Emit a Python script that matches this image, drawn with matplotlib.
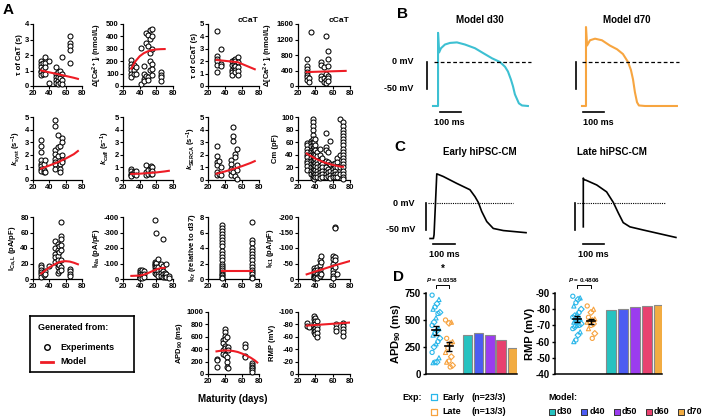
import matplotlib
matplotlib.use("Agg")
import matplotlib.pyplot as plt
import numpy as np

plt.rcParams.update({
    "font.family": ["Liberation Sans", "DejaVu Sans"],
    "font.weight": "bold",
    "axes.labelweight": "bold",
    "mathtext.fontset": "custom",
    "mathtext.rm": "Liberation Sans:bold",
    "mathtext.it": "Liberation Sans:bold:italic",
    "mathtext.bf": "Liberation Sans:bold",
    "axes.unicode_minus": False,
})

# ---------------- data: panel A (maturity in days, values) ----------------
tau_cat = [(30, [1.6, 1.4, 1.2, 1.0, 0.9, 0.7]), (32, [1.5, 1.1, 0.8]), (35, [1.9, 1.5, 1.2, 0.8]),
           (40, [1.6, 0.2]), (48, [1.2, 0.8, 0.6, 0.4, 0.2]), (50, [0.9, 0.6, 0.3, 0.1]),
           (53, [1.0, 0.7, 0.5, 0.2]), (55, [1.9, 0.8, 0.4, 0.1]), (65, [3.2, 2.8, 2.6, 2.3, 1.5])]
tau_cat_fit_d = [30, 40, 50, 60, 70, 75]
tau_cat_fit = [1.0, 0.88, 0.77, 0.65, 0.53, 0.46]

dca = [(30, [210, 180, 150, 130, 100, 70]), (33, [170, 130, 100]), (35, [150, 100]), (41, [310, 20]),
       (45, [160, 100, 60, 40]), (48, [430, 350, 80]), (50, [410, 320, 70, 50]),
       (52, [450, 380, 270, 200, 130]), (55, [460, 400, 300, 180, 140, 90]), (65, [110, 90, 70, 40])]
dca_fit_d = [30, 35, 40, 45, 50, 55, 60, 65, 70]
dca_fit = [140, 200, 240, 265, 280, 290, 295, 297, 298]

tau_ccat = [(30, [4.4, 2.4, 2.2, 2.0, 1.7, 1.1]), (35, [3.0, 1.8, 1.6]), (48, [2.0, 1.7, 1.3, 1.1, 0.9]),
            (50, [2.1, 1.8, 1.5]), (52, [2.2, 2.0, 1.6, 1.3, 1.1]), (55, [2.3, 1.9, 1.5, 1.2, 0.9])]
tau_ccat_fit_d = [30, 55, 75]
tau_ccat_fit = [2.1, 1.92, 1.35]

dca_c = [(30, [700, 520, 450, 350, 280, 220, 150]), (33, [200, 100]), (35, [1400]),
         (47, [620, 550, 250, 180]), (50, [500, 200, 100]), (52, [1300, 300, 150, 80]),
         (55, [900, 700, 520, 250, 200, 120])]
dca_c_fit_d = [30, 75]
dca_c_fit = [360, 390]

k_syst = [(30, [3.2, 2.7, 2.2, 1.6, 1.3, 1.1, 0.9, 0.7]), (33, [1.3, 0.8, 0.6]), (35, [1.6, 0.6]),
          (47, [4.8, 4.3, 2.4, 2.1, 1.7, 1.4, 1.3, 0.9]), (50, [3.6, 2.6, 1.9]),
          (53, [2.7, 1.3, 0.9, 0.6]), (55, [3.3, 3.0, 2.0, 1.6, 1.4])]
k_syst_fit_d = [30, 40, 50, 60, 70, 75]
k_syst_fit = [0.9, 1.15, 1.4, 1.7, 2.05, 2.3]

k_caff = [(30, [0.9, 0.7, 0.5, 0.4, 0.3]), (33, [0.6, 0.5]), (35, [0.7, 0.4]), (47, [1.2, 0.6, 0.4]),
          (50, [0.8, 0.5]), (53, [1.1, 0.9, 0.5]), (55, [1.0, 0.7, 0.5])]
k_caff_fit_d = [30, 40, 50, 60, 70, 75]
k_caff_fit = [0.48, 0.5, 0.55, 0.6, 0.68, 0.73]

k_serca = [(30, [2.7, 1.9, 1.4, 1.2, 0.6, 0.4]), (33, [1.5, 0.5]), (35, [1.0, 0.4]),
           (47, [1.6, 1.3, 0.9, 0.7, 0.4]), (49, [4.2, 3.5, 3.1, 0.6]), (52, [2.1, 1.8, 0.3]),
           (54, [2.5, 1.2, 0.8, 0.1])]
k_serca_fit_d = [30, 40, 50, 60, 70, 75]
k_serca_fit = [0.5, 0.68, 0.88, 1.1, 1.35, 1.5]

cm = [(30, [58, 55, 50, 45, 40, 36, 30, 27, 22, 16]),
      (35, [62, 58, 54, 48, 44, 40, 35, 30, 25, 20, 15, 10]),
      (37, [97, 92, 85, 80, 72, 65, 60, 55, 50, 44, 38, 32, 26, 20, 14, 8, 3]),
      (38, [60, 52, 46, 42, 36, 30, 24, 18, 12, 6, 2]),
      (40, [65, 56, 48, 40, 33, 27, 22, 16, 10, 5]), (42, [45, 38, 30, 25, 20, 15, 10, 5]),
      (45, [50, 40, 30, 22, 18, 12, 8, 3]), (48, [35, 25, 20, 15, 10, 5]),
      (52, [75, 52, 48, 30, 20, 15, 10, 5]), (55, [45, 28, 18, 12, 6]), (57, [62, 25, 15, 8, 3]),
      (60, [25, 18, 12, 8, 4]), (63, [27, 20, 14, 10, 5]), (65, [35, 28, 20, 10, 5]),
      (68, [97, 40, 20, 10]),
      (72, [92, 85, 80, 75, 70, 65, 60, 55, 50, 45, 40, 35, 30, 25, 20, 15, 10, 5, 2])]
cm_fit_d = [30, 40, 50, 60, 70, 72]
cm_fit = [42, 34, 28, 24, 21, 21]

ical = [(30, [18, 15, 12, 9, 6, 3]), (33, [8, 5]), (35, [10, 7]), (40, [17]), (47, [49, 40, 32, 28, 22]),
        (50, [45, 38, 30, 25, 20, 15, 8]), (52, [42, 35, 18, 10]),
        (54, [74, 55, 52, 44, 38, 25, 16, 12]), (65, [13, 10, 7, 4])]
ical_fit_d = [30, 35, 40, 45, 50, 55, 60, 65, 70, 75]
ical_fit = [7, 11, 15, 18, 21, 22.5, 23, 22.5, 21, 19]

ina = [(40, [-60, -45, -30, -20, -15, -10, -5]), (43, [-55, -35, -20, -5]), (45, [-50, -30, -10]),
       (58, [-380, -110, -100, -90, -80, -60, -40]), (60, [-295, -105, -80, -60, -50, -30]),
       (62, [-130, -75, -50, -30, -20]), (65, [-95, -60, -40, -20]),
       (68, [-260, -85, -50, -30, -15]), (70, [-40, -20, -10]), (72, [-95, -30, -10]), (75, [-20, -5])]
ina_fit_d = [30, 40, 45, 50, 55, 60, 65, 70]
ina_fit = [-20, -22, -28, -38, -50, -62, -70, -72]

ikr = [(37, [7.0, 6.6, 6.2, 5.8, 5.4, 5.0, 4.6, 4.2, 3.6, 3.2, 2.8, 2.4, 2.0, 1.7, 1.4, 1.1, 0.9,
             0.7, 0.5, 0.3, 0.1]),
       (72, [7.3, 5.0, 4.6, 4.0, 3.6, 3.2, 2.8, 2.4, 2.0, 1.6, 1.2, 0.9, 0.6, 0.3, 0.1])]
ikr_fit_d = [37, 72]
ikr_fit = [1, 1]

ik1 = [(38, [-35, -25, -15, -10, -5, -3]), (40, [-30, -20, -10, -5]), (42, [-38, -28, -15, -8, -3]),
       (45, [-60, -45, -30, -20, -10]), (47, [-75, -55, -15]),
       (60, [-75, -65, -50, -40, -30, -20, -10, -3]), (63, [-168, -165, -70, -60, -40]), (65, [-15])]
ik1_fit_d = [30, 40, 50, 60, 70, 80]
ik1_fit = [-15, -24, -33, -42, -50, -58]

apd = [(30, [250, 230, 110]), (38, [550, 500, 380, 330]), (40, [720, 680, 620, 560, 450, 420, 300]),
       (42, [600, 400, 280, 200, 120]), (44, [430, 380, 100]), (63, [490, 440, 290, 270]),
       (72, [180, 150, 120, 90, 60, 30])]
apd_fit_d = [30, 35, 40, 45, 50, 55, 60, 65, 70, 75, 78]
apd_fit = [365, 375, 380, 378, 370, 355, 330, 300, 265, 220, 185]

rmp = [(30, [-82, -78]), (33, [-76]), (38, [-93, -88, -83, -78, -72, -68]),
       (40, [-90, -85, -80, -74, -70, -65]), (42, [-85, -78, -72, -66, -60]), (64, [-80, -75, -70]),
       (72, [-83, -78, -73, -68, -62])]
rmp_fit_d = [30, 80]
rmp_fit = [-78, -83]

# ---------------- data: panels B and C (time in ms, voltage in mV) ----------------
d30_t = [0, 24, 24, 29, 38, 57, 81, 114, 152, 200, 238, 281, 319, 343, 357, 371, 381, 390, 400, 409, 424, 452]
d30_v = [-83, -83, 55, 18, 26, 33, 36, 37, 33, 26, 17, 7, 0, -9, -18, -33, -46, -61, -70, -78, -82, -83]
d70_t = [0, 19, 19, 24, 38, 62, 95, 133, 167, 195, 219, 233, 243, 252, 262, 271, 300, 452]
d70_v = [-83, -83, 66, 31, 41, 44, 41, 31, 24, 15, 0, -15, -33, -57, -76, -82, -83, -83]
early_t = [-14, 2, 5, 18, 49, 113, 176, 200, 216, 232, 256, 287, 335, 443]
early_v = [-67, -67, -60, 55, 50, 37, 25, 12, 1, -16, -35, -48, -52, -56]
late_t = [0, 0, 3, 13, 64, 111, 143, 167, 190, 222, 286, 441]
late_v = [-45, 47, 44, 43, 34, 21, 1, -19, -37, -45, -51, -65]

# ---------------- data: panel D ----------------
apd_early = [730, 690, 650, 620, 600, 570, 560, 520, 480, 450, 420, 400, 380, 360, 330, 300, 280,
             250, 200, 150, 110, 110, 105]
apd_late = [500, 480, 470, 330, 300, 280, 240, 200, 160, 120, 110, 80, 65]
rmp_early = [-88, -87, -86, -84, -82, -80, -78, -77, -76, -75, -74, -73, -72, -72, -71, -70, -70,
             -69, -68, -66, -64, -61, -60]
rmp_late = [-82, -80, -78, -75, -74, -73, -72, -72, -71, -70, -68, -65, -62]
model_days = ["d30", "d40", "d50", "d60", "d70"]
model_apd = [361, 378, 361, 312, 240]
model_rmp = [-79.5, -80.3, -81.3, -82.0, -82.5]

RED = "#ee1c25"
CYAN = "#2ab7ea"
ORANGE = "#f7a23e"
MODEL_COLS = ["#27c2c0", "#4c5cf2", "#9b3cef", "#e8416f", "#f2ac42"]

W, H = 708, 418
fig = plt.figure(figsize=(W / 100, H / 100), dpi=100)

ov = fig.add_axes([0, 0, 1, 1])
ov.set_xlim(0, W)
ov.set_ylim(H, 0)
ov.axis("off")


def px_ax(x0, y0, x1, y1):
    return fig.add_axes([x0 / W, 1 - y1 / H, (x1 - x0) / W, (y1 - y0) / H])


def expand(groups):
    xs, ys = [], []
    for d, vals in groups:
        xs += [d] * len(vals)
        ys += vals
    return xs, ys


def panel_a(box, pts, fd, fv, ylim, yticks, ylabel, title=None):
    ax = px_ax(*box)
    x, y = expand(pts)
    ax.scatter(x, y, s=13, facecolors="white", edgecolors="black", linewidths=0.75, zorder=3,
               clip_on=False)
    ax.plot(fd, fv, color=RED, lw=1.5, zorder=4)
    ax.set_xlim(20, 80)
    ax.set_xticks([20, 40, 60, 80])
    ax.set_ylim(*ylim)
    ax.set_yticks(yticks)
    ax.set_ylabel(ylabel, fontsize=5.5, labelpad=1.5)
    ax.spines[["top", "right"]].set_visible(False)
    for s in ["left", "bottom"]:
        ax.spines[s].set_linewidth(0.9)
    ax.tick_params(labelsize=5.5, length=2, width=0.8, pad=1)
    if title:
        ax.text(0.78, 1.06, title, transform=ax.transAxes, ha="center", va="center", fontsize=6)
    return ax


C1, C2, C3, C4 = (33, 82), (123, 173), (208, 259), (298, 350)
R1, R2, R3, R4 = (24, 86), (117, 180), (217, 279), (312, 374)


def box(c, r):
    return (c[0], r[0], c[1], r[1])


panel_a(box(C1, R1), tau_cat, tau_cat_fit_d, tau_cat_fit, (0, 4), [0, 1, 2, 3, 4], "τ of CaT (s)")
panel_a(box(C2, R1), dca, dca_fit_d, dca_fit, (0, 500), [0, 100, 200, 300, 400, 500],
        r"Δ[Ca$^{2+}$]$_i$ (nmol/L)")
panel_a(box(C3, R1), tau_ccat, tau_ccat_fit_d, tau_ccat_fit, (0, 5), [0, 1, 2, 3, 4, 5],
        "τ of cCaT (s)", "cCaT")
panel_a(box(C4, R1), dca_c, dca_c_fit_d, dca_c_fit, (0, 1600), [0, 400, 800, 1200, 1600],
        r"Δ[Ca$^{2+}$]$_i$ (nmol/L)", "cCaT")
panel_a(box(C1, R2), k_syst, k_syst_fit_d, k_syst_fit, (0, 5), [0, 1, 2, 3, 4, 5],
        r"$k_\mathrm{syst}$ (s$^{-1}$)")
panel_a(box(C2, R2), k_caff, k_caff_fit_d, k_caff_fit, (0, 5), [0, 1, 2, 3, 4, 5],
        r"$k_\mathrm{caff}$ (s$^{-1}$)")
panel_a(box(C3, R2), k_serca, k_serca_fit_d, k_serca_fit, (0, 5), [0, 1, 2, 3, 4, 5],
        r"$k_\mathrm{SERCA}$ (s$^{-1}$)")
panel_a(box(C4, R2), cm, cm_fit_d, cm_fit, (0, 100), [0, 20, 40, 60, 80, 100], "Cm (pF)")
panel_a(box(C1, R3), ical, ical_fit_d, ical_fit, (0, 80), [0, 20, 40, 60, 80],
        r"I$_\mathrm{Ca,L}$ (pA/pF)")
panel_a(box(C2, R3), ina, ina_fit_d, ina_fit, (0, -400), [0, -100, -200, -300, -400],
        r"I$_\mathrm{Na}$ (pA/pF)")
panel_a(box(C3, R3), ikr, ikr_fit_d, ikr_fit, (0, 8), [0, 2, 4, 6, 8],
        r"I$_\mathrm{Kr}$ (relative to d37)")
panel_a(box(C4, R3), ik1, ik1_fit_d, ik1_fit, (0, -200), [0, -50, -100, -150, -200],
        r"I$_\mathrm{K1}$ (pA/pF)")
panel_a(box(C3, R4), apd, apd_fit_d, apd_fit, (0, 1000), [0, 200, 400, 600, 800, 1000],
        r"APD$_{90}$ (ms)")
panel_a(box(C4, R4), rmp, rmp_fit_d, rmp_fit, (0, -100), [0, -20, -40, -60, -80, -100], "RMP (mV)")
ov.text(233, 399, "Maturity (days)", ha="center", va="center", fontsize=7)

# legend box of panel A
leg = px_ax(30, 316, 134, 372)
leg.patch.set_visible(False)
leg.set_xticks([])
leg.set_yticks([])
for s in leg.spines.values():
    s.set_linewidth(1.2)
ov.text(38, 328, "Generated from:", ha="left", va="center", fontsize=6.5)
ov.scatter([47], [347], s=16, facecolors="white", edgecolors="black", linewidths=1.0)
ov.text(60, 347, "Experiments", ha="left", va="center", fontsize=6.5)
ov.plot([41, 53], [362, 362], color=RED, lw=2)
ov.text(60, 362, "Model", ha="left", va="center", fontsize=6.5)

# ---------------- panels B and C ----------------
SX, SY = 0.21, 0.53  # px per ms, px per mV


def trace_ax(t0, v0, bx):
    x0, y0, x1, y1 = bx
    ax = px_ax(*bx)
    ax.set_xlim((x0 - t0) / SX, (x1 - t0) / SX)
    ax.set_ylim((v0 - y1) / SY, (v0 - y0) / SY)
    ax.axis("off")
    return ax


def scale_bars(ax, vbar_t, hbar, hbar_v, label_t, text_t, show_mv=True):
    ax.plot([vbar_t, vbar_t], [0, -50], color="black", lw=1.2, clip_on=False)
    ax.plot(hbar, [hbar_v, hbar_v], color="black", lw=1.2, clip_on=False)
    ax.text(label_t, hbar_v - 21, "100 ms", ha="center", va="center", fontsize=6.5)
    if show_mv:
        ax.text(text_t, 0, "0 mV", ha="right", va="center", fontsize=6.5)
        ax.text(text_t, -50, "-50 mV", ha="right", va="center", fontsize=6.5)


b1 = trace_ax(433, 62, (405, 20, 545, 125))
b1.plot(d30_t, d30_v, color="#3dc0d2", lw=1.5)
b1.plot([5, 465], [0, 0], color="black", lw=0.9, ls=(0, (3, 2)))
scale_bars(b1, -28, [33, 133], -94, 80, -95)
ov.text(480, 20, "Model d30", ha="center", va="center", fontsize=7)

b2 = trace_ax(582, 62, (560, 20, 700, 125))
b2.plot(d70_t, d70_v, color="#f7a540", lw=1.5)
b2.plot([0, 460], [0, 0], color="black", lw=0.9, ls=(0, (3, 2)))
scale_bars(b2, -28, [5, 105], -94, 80, -95, show_mv=False)
ov.text(627, 20, "Model d70", ha="center", va="center", fontsize=7)

c1 = trace_ax(433, 203, (405, 160, 545, 260))
c1.plot(early_t, early_v, color="black", lw=1.2)
c1.plot([-24, 381], [0, 0], color="black", lw=0.8, ls=(0, (1, 1)))
scale_bars(c1, -33, [0, 105], -77, 55, -86)
ov.text(480, 152, "Early hiPSC-CM", ha="center", va="center", fontsize=7)

c2 = trace_ax(583.3, 203, (560, 160, 700, 260))
c2.plot(late_t, late_v, color="black", lw=1.2)
c2.plot([-30, 390], [0, 0], color="black", lw=0.8, ls=(0, (1, 1)))
scale_bars(c2, -40, [0, 100], -77, 50, -86, show_mv=False)
ov.text(612, 152, "Late hiPSC-CM", ha="center", va="center", fontsize=7)

# ---------------- panel D ----------------
markers_e = ["o", "^", "D"]


def panel_d(bx, xlim, ylim, yticks, ylabel, early, late, model, ptxt, star):
    ax = px_ax(*bx)
    bottom = ylim[0]
    for i, v in enumerate(early):
        off = ((i * 7) % 9 - 4) * 0.075
        ax.scatter(0 + off, v, s=9, marker=markers_e[i % 3], facecolors="none", edgecolors=CYAN,
                   linewidths=0.8, zorder=3, clip_on=False)
    for i, v in enumerate(late):
        off = ((i * 5) % 7 - 3) * 0.09
        ax.scatter(1 + off, v, s=9, marker=markers_e[i % 3], facecolors="none", edgecolors=ORANGE,
                   linewidths=0.8, zorder=3, clip_on=False)
    for xpos, vals in [(0, early), (1, late)]:
        m = np.mean(vals)
        sem = np.std(vals, ddof=1) / np.sqrt(len(vals))
        ax.plot([xpos - 0.3, xpos + 0.3], [m, m], color="black", lw=1.2, zorder=4)
        ax.errorbar(xpos, m, yerr=sem, color="black", lw=1.0, capsize=2, capthick=1.0, zorder=4)
    bx_pos = 2.4 + 0.87 * np.arange(len(model))
    ax.bar(bx_pos, np.array(model) - bottom, bottom=bottom, width=0.72, color=MODEL_COLS,
           edgecolor="#8a8a8a", linewidth=0.8)
    ax.set_xlim(*xlim)
    ax.set_ylim(*ylim)
    ax.set_yticks(yticks)
    ax.set_xticks([])
    ax.set_ylabel(ylabel, fontsize=8, labelpad=1)
    ax.spines[["top", "right"]].set_visible(False)
    for s in ["left", "bottom"]:
        ax.spines[s].set_linewidth(1.1)
    ax.tick_params(labelsize=7, length=2.5, width=1, pad=1)
    span = ylim[1] - ylim[0]
    yb = ylim[1] + 0.095 * span
    ax.plot([0, 0, 1, 1], [yb - 0.03 * span, yb, yb, yb - 0.03 * span], color="black", lw=0.7,
            clip_on=False)
    ax.text(0.5, yb + 0.07 * span, ptxt, ha="center", va="center", fontsize=4.5, clip_on=False)
    if star:
        ax.text(0.5, yb + 0.2 * span, "*", ha="center", va="center", fontsize=7)
    return ax


panel_d((426, 293, 517, 374), (-0.77, 6.23), (0, 750), [0, 250, 500, 750], r"APD$_{90}$ (ms)",
        apd_early, apd_late, model_apd, r"$P$ = 0.0358", True)
panel_d((555, 293, 662, 374), (-1.57, 6.07), (-40, -90), [-40, -50, -60, -70, -80, -90], "RMP (mV)",
        rmp_early, rmp_late, model_rmp, r"$P$ = 0.4806", False)

# legend of panel D
ov.text(402, 397, "Exp:", ha="left", va="center", fontsize=6.5)
ov.scatter([434, 434], [397, 412], s=14, marker="s", facecolors="none", edgecolors=[CYAN, ORANGE],
           linewidths=0.9)
ov.text(442, 397, "Early", ha="left", va="center", fontsize=6.5)
ov.text(472, 397, "(n=23/3)", ha="left", va="center", fontsize=6.5)
ov.text(442, 412, "Late", ha="left", va="center", fontsize=6.5)
ov.text(472, 412, "(n=13/3)", ha="left", va="center", fontsize=6.5)
ov.text(548, 397, "Model:", ha="left", va="center", fontsize=6.5)
for i, (lab, col) in enumerate(zip(model_days, MODEL_COLS)):
    xs = 552 + 32.3 * i
    ov.scatter([xs], [412], s=16, marker="s", color=col, edgecolors="#333333", linewidths=0.7)
    ov.text(xs + 5, 412, lab, ha="left", va="center", fontsize=6.5)

# panel letters
for lab, (x, y) in {"A": (8, 10), "B": (402, 14), "C": (400, 147), "D": (398, 277)}.items():
    ov.text(x, y, lab, ha="center", va="center", fontsize=11, fontweight="bold")

fig.savefig("out.png", dpi=100)
